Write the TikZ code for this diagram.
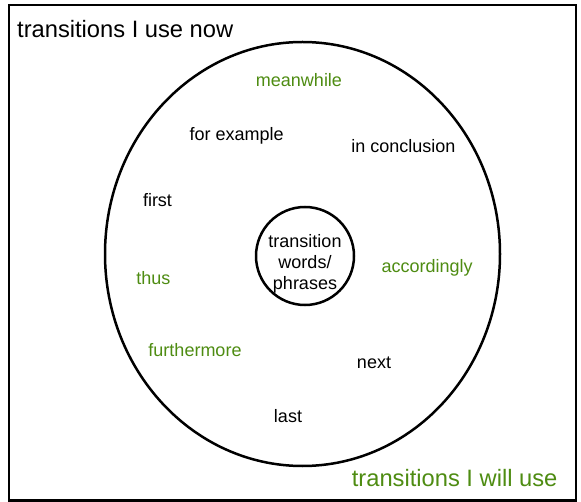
\documentclass[tikz,border=0pt]{standalone}
\usepackage{fontspec}
\setmainfont{Liberation Sans}
\definecolor{tgreen}{RGB}{78,140,18}
\tikzset{
  lbl/.style={anchor=base,inner sep=0pt,font=\fontsize{18}{20.8}\selectfont,text=black},
  glbl/.style={lbl,text=tgreen},
  title/.style={anchor=base west,inner sep=0pt,font=\fontsize{23.7}{28}\selectfont},
  frame/.style={draw=black,line width=2.5pt},
  ring/.style={draw=black,line width=2.5pt}
}
\begin{document}
\begin{tikzpicture}[x=1pt,y=-1pt]
\useasboundingbox (0,0) rectangle (581,502);
\fill[white] (0,0) rectangle (581,502);
\draw[frame] (9,5) rectangle (576,500.5);
\draw[ring] (302.5,254) ellipse [x radius=197.5pt, y radius=212pt];
\node[circle,ring,minimum size=98pt,inner sep=0pt] (core) at (305,256) {};
\node[align=center,inner sep=0pt,font=\fontsize{18}{20.8}\selectfont] (coretext) at (305,264) {transition\\words/\\phrases};
\node[title] (now) at (17,38) {transitions I use now};
\node[title,text=tgreen] (will) at (351.7,486) {transitions I will use};
\node[glbl] (meanwhile) at (299,86.5) {meanwhile};
\node[lbl] (forexample) at (236.7,140.5) {for example};
\node[lbl] (inconclusion) at (403.3,153) {in conclusion};
\node[lbl] (first) at (157.5,207) {first};
\node[glbl] (thus) at (153.3,284.5) {thus};
\node[glbl] (accordingly) at (427.2,273) {accordingly};
\node[glbl] (furthermore) at (195,356.5) {furthermore};
\node[lbl] (next) at (374,368.5) {next};
\node[lbl] (last) at (288,422) {last};
\end{tikzpicture}
\end{document}
